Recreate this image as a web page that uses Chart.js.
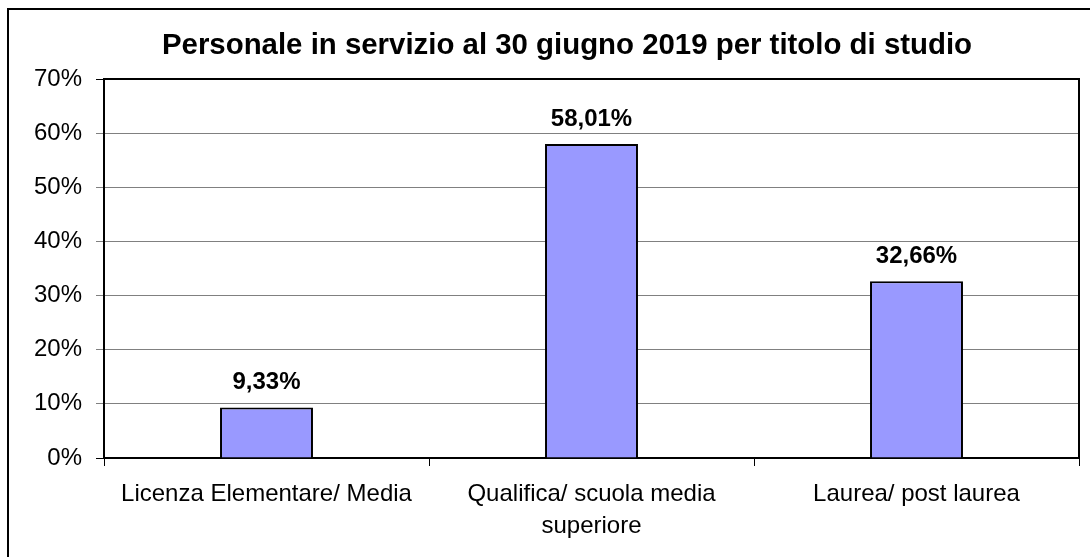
<!DOCTYPE html>
<html>
<head>
<meta charset="utf-8">
<script src="https://cdn.jsdelivr.net/npm/chart.js@4.4.1/dist/chart.umd.min.js"></script>
<style>
  html, body { margin: 0; padding: 0; background: #fff; }
  #wrap { width: 1090px; height: 557px; position: relative; }
</style>
</head>
<body>
<div id="wrap"><canvas id="c" width="1090" height="557"></canvas></div>
<script>
const titleText = "Personale in servizio al 30 giugno 2019 per titolo di studio";
const categories = [
  ["Licenza Elementare/ Media"],
  ["Qualifica/ scuola media", "superiore"],
  ["Laurea/ post laurea"]
];
const percentValues = [9.33, 58.01, 32.66];
const yTickMax = 70;
const yTickStep = 10;

const FONT = "'Liberation Sans', Arial, Helvetica, sans-serif";

const framePlugin = {
  id: 'frame',
  beforeDraw(chart) {
    const ctx = chart.ctx;
    ctx.save();
    ctx.fillStyle = '#fff';
    ctx.fillRect(0, 0, chart.width, chart.height);
    ctx.strokeStyle = '#000';
    ctx.lineWidth = 2;
    ctx.beginPath();
    ctx.moveTo(8, chart.height);
    ctx.lineTo(8, 9);
    ctx.lineTo(chart.width, 9);
    ctx.stroke();
    // title
    ctx.fillStyle = '#000';
    ctx.font = "bold 29.4px " + FONT;
    ctx.textAlign = 'center';
    ctx.textBaseline = 'middle';
    ctx.fillText(titleText, 567, 46);
    ctx.restore();
  },
  afterDatasetsDraw(chart) {
    const ctx = chart.ctx;
    const a = chart.chartArea;
    ctx.save();
    ctx.strokeStyle = '#000';
    ctx.lineWidth = 2;
    ctx.beginPath();
    ctx.moveTo(a.left, a.top);
    ctx.lineTo(a.right, a.top);
    ctx.lineTo(a.right, a.bottom);
    ctx.stroke();
    // data labels
    ctx.fillStyle = '#000';
    ctx.font = "bold 24px " + FONT;
    ctx.textAlign = 'center';
    ctx.textBaseline = 'alphabetic';
    const meta = chart.getDatasetMeta(0);
    meta.data.forEach((bar, i) => {
      const v = chart.data.datasets[0].data[i];
      const txt = v.toFixed(2).replace('.', ',') + '%';
      ctx.fillText(txt, bar.x, bar.y - 18);
    });
    ctx.restore();
  }
};

new Chart(document.getElementById('c'), {
  type: 'bar',
  data: {
    labels: categories,
    datasets: [{
      data: percentValues,
      backgroundColor: '#9999FF',
      borderColor: '#000',
      borderWidth: 2,
      categoryPercentage: 1.0,
      barPercentage: 0.286
    }]
  },
  options: {
    responsive: false,
    animation: false,
    devicePixelRatio: 1,
    layout: { padding: { left: 0, right: 11, top: 79, bottom: 0 } },
    plugins: {
      legend: { display: false },
      tooltip: { enabled: false },
      title: { display: false }
    },
    scales: {
      x: {
        grid: {
          offset: true,
          drawOnChartArea: false,
          drawTicks: true,
          tickLength: 8,
          color: '#000',
          lineWidth: 1
        },
        border: { display: true, color: '#000', width: 2 },
        ticks: {
          color: '#000',
          font: { family: FONT, size: 24, lineHeight: 1.33 },
          padding: 12,
          maxRotation: 0,
          autoSkip: false
        },
        afterFit(scale) { scale.height = 99; }
      },
      y: {
        min: 0,
        max: yTickMax,
        grid: {
          color: (c) => (c.tick && (c.tick.value === 0 || c.tick.value === yTickMax)) ? '#000' : '#808080',
          lineWidth: 1,
          tickLength: 8
        },
        border: { display: true, color: '#000', width: 2 },
        ticks: {
          stepSize: yTickStep,
          color: '#000',
          font: { family: FONT, size: 24 },
          padding: 14,
          callback: (v) => v + '%'
        },
        afterFit(scale) { scale.width = 104; }
      }
    }
  },
  plugins: [framePlugin]
});
</script>
</body>
</html>
